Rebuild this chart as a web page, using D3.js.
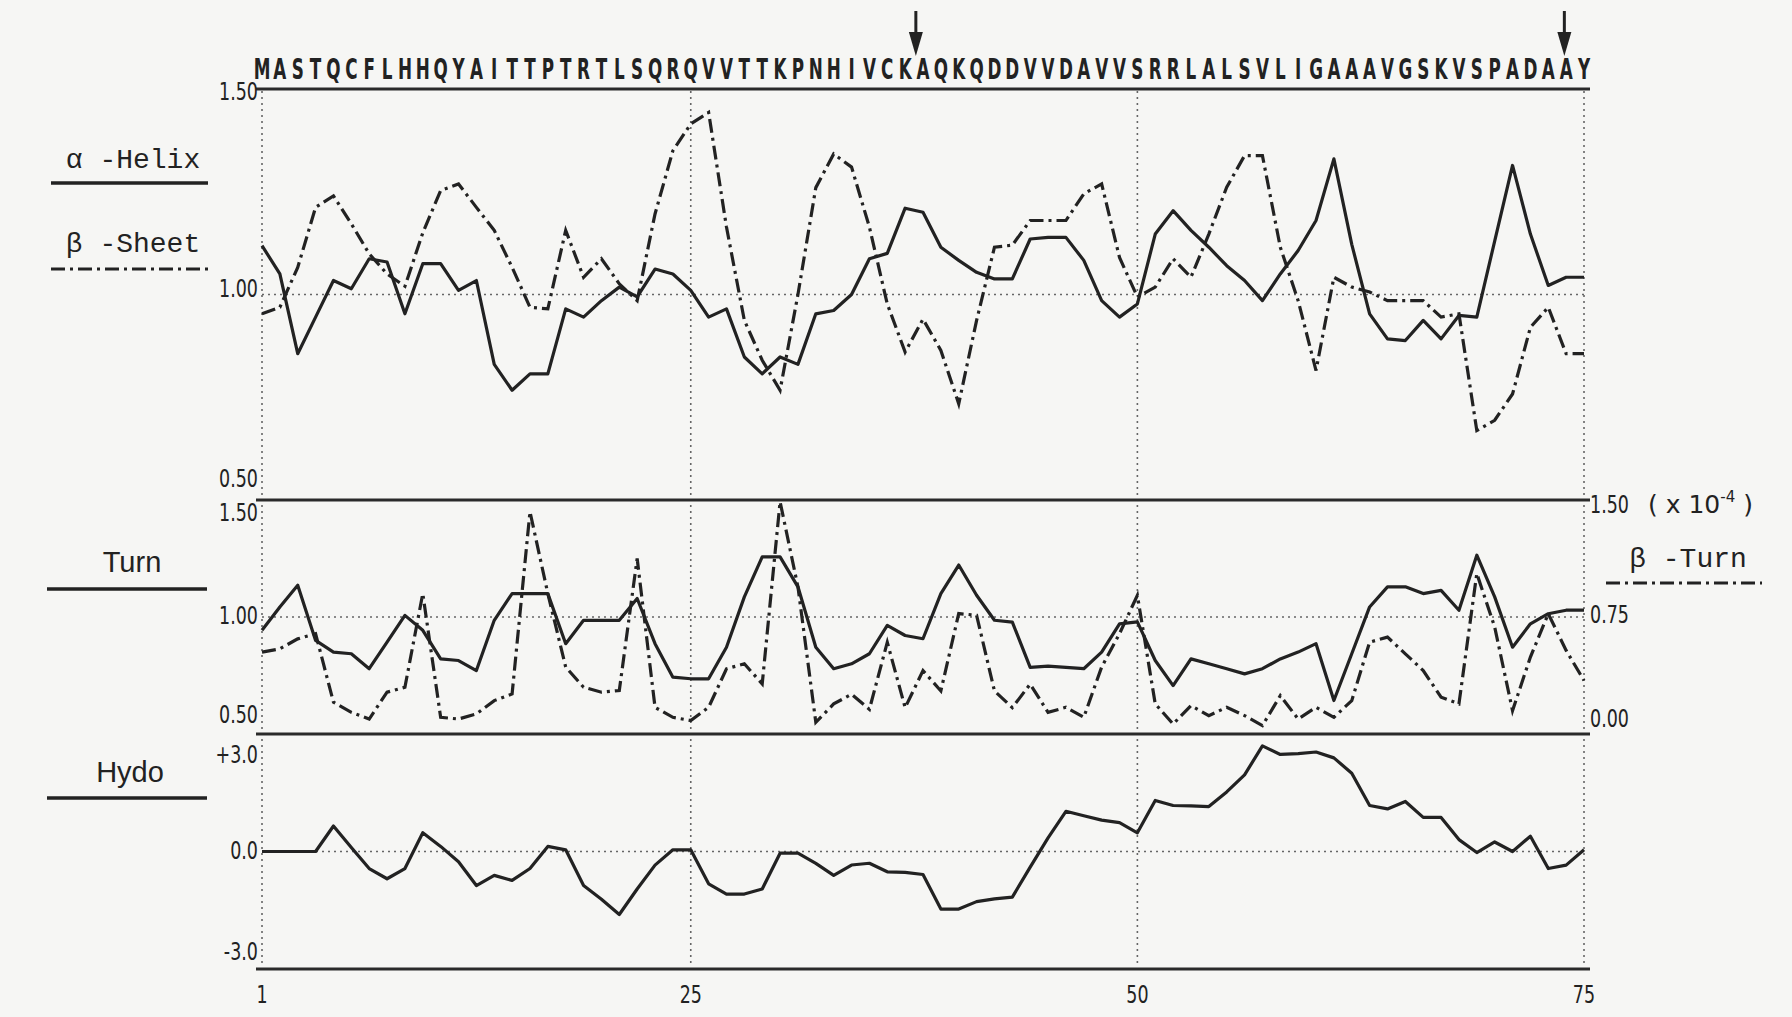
<!DOCTYPE html>
<html>
<head>
<meta charset="utf-8">
<script src="https://cdn.jsdelivr.net/npm/d3@7"></script>
<style>
body { margin: 0; background: #f6f6f4; }
text { fill: #222; }
.seq { font-family: "DejaVu Sans", sans-serif; font-weight: bold; font-size: 28px; }
.tick { font-family: "DejaVu Sans", sans-serif; font-size: 25px; }
.legend { font-family: "Liberation Mono", "DejaVu Sans Mono", monospace; font-size: 28px; }
.legend2 { font-family: "Liberation Sans", "DejaVu Sans", sans-serif; font-size: 29px; }
.frame { stroke: #2a2a2a; stroke-width: 3; }
.grid { stroke: #666; stroke-width: 1.6; stroke-dasharray: 2,4; }
.solid { fill: none; stroke: #222; stroke-width: 3.2; stroke-linejoin: round; }
.dashdot { fill: none; stroke: #222; stroke-width: 3.2; stroke-dasharray: 14,5,3,5; }
</style>
</head>
<body>
<svg id="chart" width="1792" height="1017"></svg>
<script>
// residue sequence, one letter per position
var sequence = "MASTQCFLHHQYAITTPTRTLSQRQVVTTKPNHIVCKAQKQDDVVDAVVSRRLALSVLIGAAAVGSKVSPADAAY";
var xTicks = [1, 25, 50, 75];
var cleavage = [37.6, 73.9];

var helix = [1.119, 1.05, 0.856, 0.945, 1.034, 1.014, 1.087, 1.079, 0.953, 1.075,
    1.075, 1.01, 1.034, 0.83, 0.767, 0.807, 0.807, 0.965, 0.945, 0.985,
    1.018, 0.994, 1.062, 1.05, 1.01, 0.945, 0.965, 0.848, 0.807, 0.848,
    0.83, 0.953, 0.961, 1.0, 1.087, 1.1, 1.21, 1.2, 1.115, 1.083,
    1.054, 1.038, 1.038, 1.135, 1.139, 1.139, 1.083, 0.985, 0.945, 0.977,
    1.147, 1.204, 1.156, 1.115, 1.07, 1.034, 0.985, 1.05, 1.107, 1.18,
    1.33, 1.122, 0.953, 0.892, 0.888, 0.937, 0.892, 0.949, 0.945, 1.13,
    1.314, 1.147, 1.022, 1.042, 1.042];

var sheet = [0.953, 0.969, 1.066, 1.212, 1.24, 1.172, 1.099, 1.05, 1.02, 1.15,
    1.253, 1.269, 1.212, 1.156, 1.066, 0.969, 0.965, 1.156, 1.042, 1.087,
    1.026, 0.985, 1.196, 1.35, 1.415, 1.443, 1.164, 0.937, 0.84, 0.767,
    1.0, 1.26, 1.342, 1.31, 1.164, 0.977, 0.86, 0.94, 0.864, 0.734,
    0.937, 1.115, 1.12, 1.18, 1.18, 1.18, 1.245, 1.269, 1.09, 0.994,
    1.018, 1.087, 1.042, 1.147, 1.261, 1.338, 1.338, 1.115, 0.985, 0.815,
    1.042, 1.018, 1.006, 0.985, 0.985, 0.985, 0.945, 0.953, 0.669, 0.694,
    0.758, 0.92, 0.969, 0.856, 0.856];

var turn = [0.943, 1.043, 1.136, 0.9, 0.85, 0.843, 0.779, 0.893, 1.007, 0.943,
    0.821, 0.814, 0.771, 0.986, 1.1, 1.1, 1.1, 0.886, 0.986, 0.986,
    0.986, 1.079, 0.886, 0.743, 0.736, 0.736, 0.871, 1.086, 1.257, 1.257,
    1.129, 0.871, 0.779, 0.8, 0.843, 0.964, 0.921, 0.907, 1.1, 1.222,
    1.093, 0.986, 0.978, 0.785, 0.79, 0.785, 0.779, 0.85, 0.971, 0.979,
    0.814, 0.707, 0.821, 0.8, 0.779, 0.757, 0.779, 0.821, 0.85, 0.886,
    0.643, 0.843, 1.043, 1.129, 1.129, 1.1, 1.114, 1.029, 1.264, 1.086,
    0.871, 0.971, 1.014, 1.029, 1.029];

// beta-turn probability, x 10^-4 (right axis)
var betaTurn = [0.525, 0.546, 0.61, 0.643, 0.204, 0.139, 0.096, 0.268, 0.3, 0.9,
    0.107, 0.096, 0.129, 0.214, 0.257, 1.425, 0.9, 0.429, 0.3, 0.268,
    0.279, 1.125, 0.171, 0.107, 0.086, 0.171, 0.418, 0.45, 0.321, 1.489,
    0.943, 0.075, 0.193, 0.255, 0.158, 0.588, 0.169, 0.406, 0.276, 0.772,
    0.761, 0.276, 0.169, 0.32, 0.139, 0.171, 0.107, 0.429, 0.643, 0.889,
    0.193, 0.064, 0.182, 0.118, 0.171, 0.118, 0.054, 0.246, 0.096, 0.171,
    0.107, 0.214, 0.589, 0.621, 0.514, 0.407, 0.236, 0.193, 1.029, 0.686,
    0.15, 0.493, 0.771, 0.536, 0.343];

var hydro = [0, 0, 0, 0, 0.652, 0.1, -0.435, -0.696, -0.435, 0.478,
    0.13, -0.26, -0.87, -0.609, -0.739, -0.435, 0.13, 0.043, -0.87, -1.217,
    -1.609, -0.957, -0.348, 0.043, 0.043, -0.826, -1.087, -1.087, -0.957, -0.043,
    -0.043, -0.304, -0.609, -0.345, -0.3, -0.518, -0.535, -0.587, -1.47, -1.47,
    -1.28, -1.21, -1.165, -0.4, 0.348, 1.026, 0.913, 0.8, 0.739, 0.478,
    1.304, 1.174, 1.165, 1.148, 1.522, 1.957, 2.696, 2.478, 2.5, 2.54,
    2.39, 2.0, 1.174, 1.087, 1.278, 0.87, 0.87, 0.304, -0.026, 0.243,
    0, 0.391, -0.435, -0.348, 0.043];

var svg = d3.select("#chart");
svg.append("rect").attr("width", 1792).attr("height", 1017).attr("fill", "#f6f6f4");

var x = d3.scaleLinear().domain([1, 75]).range([262, 1584]);
var top0 = 89, bottom0 = 969;

var yHelix = d3.scaleLinear().domain([0.5, 1.5]).range([500, 89]);
var yTurn = d3.scaleLinear().domain([0.5, 1.5]).range([734, 500]);
var yBeta = d3.scaleLinear().domain([0, 1.5]).range([734, 500]);
var yHydro = d3.scaleLinear().domain([-3, 3]).range([969, 734]);

function drawLine(values, y, cls) {
    var line = d3.line()
        .x(function(d, i) { return x(i + 1); })
        .y(function(d) { return y(d); });
    svg.append("path").datum(values).attr("class", cls).attr("d", line);
}

// condensed text: squeeze horizontally around its own anchor
function narrow(sel, tx, ty, sx) {
    return sel.attr("transform", "translate(" + tx + "," + ty + ") scale(" + sx + ",1)");
}

// vertical dotted guides (axes at 1 and 75 too)
svg.selectAll(".vgrid").data(xTicks).enter().append("line")
    .attr("class", "grid")
    .attr("x1", function(d) { return x(d); }).attr("x2", function(d) { return x(d); })
    .attr("y1", top0 + 2).attr("y2", bottom0 - 2);

// horizontal dotted reference lines
[[yHelix, 1.0], [yTurn, 1.0], [yHydro, 0]].forEach(function(p) {
    svg.append("line").attr("class", "grid")
        .attr("x1", x(1)).attr("x2", x(75))
        .attr("y1", p[0](p[1])).attr("y2", p[0](p[1]));
});

// panel frame lines
[yHelix(1.5), yHelix(0.5), yTurn(0.5), yHydro(-3)].forEach(function(yy) {
    svg.append("line").attr("class", "frame")
        .attr("x1", x(1) - 6).attr("x2", x(75) + 6)
        .attr("y1", yy).attr("y2", yy);
});

drawLine(sheet, yHelix, "dashdot");
drawLine(helix, yHelix, "solid");
drawLine(betaTurn, yBeta, "dashdot");
drawLine(turn, yTurn, "solid");
drawLine(hydro, yHydro, "solid");

// left tick labels, nudged to stay inside their panel
function leftLabels(y, ticks, labels, offs) {
    ticks.forEach(function(t, i) {
        var t0 = svg.append("text").attr("class", "tick")
            .attr("text-anchor", "end").attr("dominant-baseline", "central")
            .text(labels[i]);
        narrow(t0, x(1) - 4, y(t) + offs[i], 0.7);
    });
}
leftLabels(yHelix, [1.5, 1.0, 0.5], ["1.50", "1.00", "0.50"], [2, -6, -22]);
leftLabels(yTurn, [1.5, 1.0, 0.5], ["1.50", "1.00", "0.50"], [12, -2, -20]);
leftLabels(yHydro, [3, 0, -3], ["+3.0", "0.0", "-3.0"], [20, -1, -18]);

var rightTicks = [1.5, 0.75, 0];
var rightOffs = [4, -3, -16];
rightTicks.forEach(function(t, i) {
    var t0 = svg.append("text").attr("class", "tick")
        .attr("dominant-baseline", "central")
        .text(d3.format(".2f")(t));
    narrow(t0, x(75) + 6, yBeta(t) + rightOffs[i], 0.7);
});
var unit = svg.append("text").attr("class", "tick")
    .attr("x", x(75) + 64).attr("y", yBeta(1.5) + 13);
unit.append("tspan").text("( x  10");
unit.append("tspan").attr("dy", -11).attr("font-size", 15).text("-4");
unit.append("tspan").attr("dy", 11).text("  )");

// x tick labels
xTicks.forEach(function(d) {
    var t0 = svg.append("text").attr("class", "tick")
        .attr("text-anchor", "middle").attr("dominant-baseline", "central")
        .text(d);
    narrow(t0, x(d), 994, 0.7);
});

// sequence along the top
sequence.split("").forEach(function(d, i) {
    var t0 = svg.append("text").attr("class", "seq")
        .attr("text-anchor", "middle").text(d);
    narrow(t0, x(i + 1), 79, 0.6);
});

// cleavage arrows
cleavage.forEach(function(c) {
    var cx = x(c);
    svg.append("line").attr("x1", cx).attr("x2", cx).attr("y1", 11).attr("y2", 40)
        .attr("stroke", "#222").attr("stroke-width", 3);
    svg.append("path").attr("d", "M" + (cx - 7) + ",32L" + (cx + 7) + ",32L" + cx + ",56Z")
        .attr("fill", "#222");
});

// legends
function legend(label, cls, tx, ty, lx1, lx2, ly, lineCls) {
    svg.append("text").attr("class", cls).attr("x", tx).attr("y", ty)
        .attr("text-anchor", "middle").text(label);
    svg.append("line").attr("class", lineCls)
        .attr("x1", lx1).attr("x2", lx2).attr("y1", ly).attr("y2", ly)
        .attr("stroke", "#222").attr("stroke-width", 3.5);
}
legend("\u03b1 -Helix", "legend", 133, 168, 51, 208, 183, "");
legend("\u03b2 -Sheet", "legend", 133, 252, 51, 208, 269, "dashdot");
legend("Turn", "legend2", 132, 572, 47, 207, 589, "");
legend("Hydo", "legend2", 130, 782, 47, 207, 798, "");
legend("\u03b2 -Turn", "legend", 1688, 567, 1606, 1762, 583, "dashdot");
</script>
</body>
</html>
